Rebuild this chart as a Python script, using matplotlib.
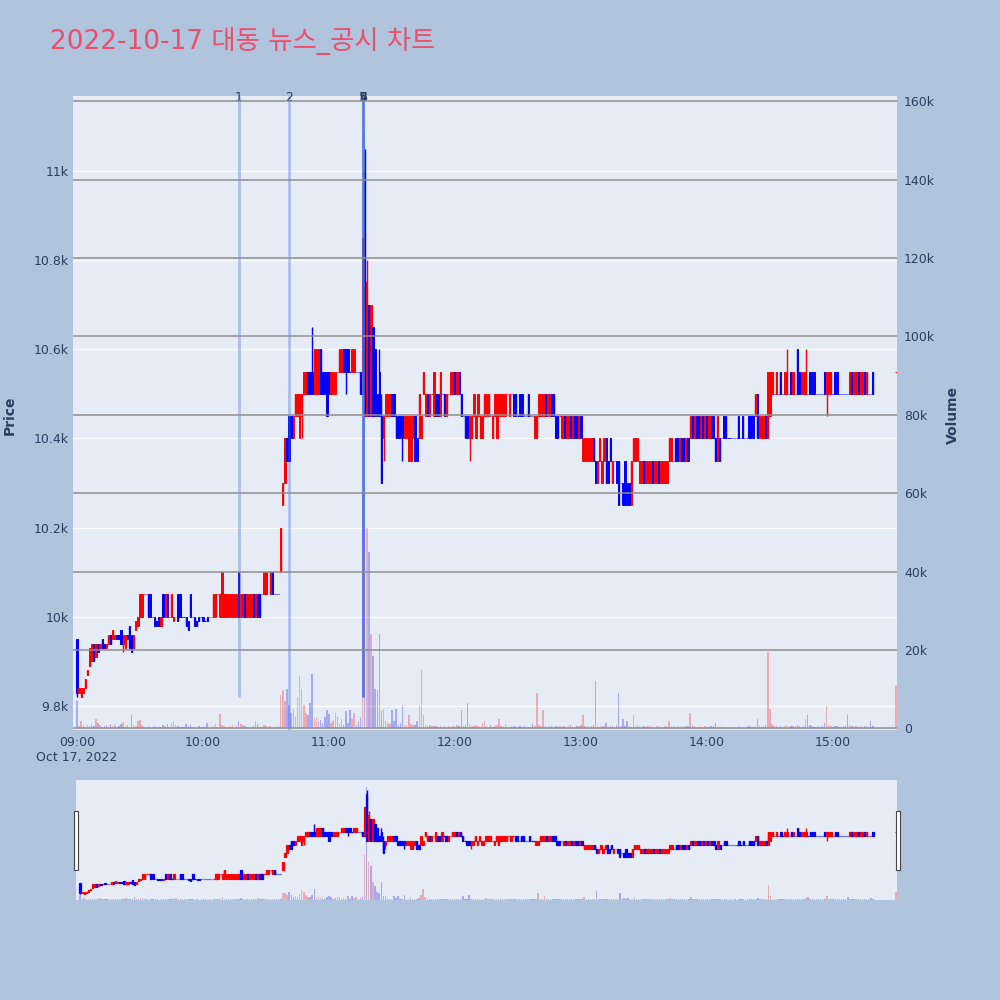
import numpy as np
import matplotlib.pyplot as plt
from matplotlib.patches import Rectangle
from matplotlib.transforms import blended_transform_factory

# minutes after 09:00; 0..379 regular session, 390 = 15:30 closing auction
minutes = list(range(380)) + [390]

opens = [
    9950, 9830, 9820, 9830, 9840, 9870, 9890, 9900, 9940, 9910,
    9940, 9930, 9950, 9940, 9930, 9940, 9960, 9950, 9950, 9960,
    9960, 9970, 9940, 9930, 9960, 9980, 9960, 9930, 9970, 9980,
    10000, 10000, 10050, 10050, 10050, 10050, 10000, 10000, 9990, 10000,
    9980, 10050, 10000, 10050, 10000, 10000, 9990, 10000, 10050, 10050,
    10000, 10000, 10000, 9990, 10050, 10000, 10000, 9990, 10000, 10000,
    10000, 9990, 10000, 10000, 10000, 10000, 10000, 10050, 10000, 10000,
    10000, 10000, 10000, 10000, 10000, 10000, 10000, 10100, 10000, 10000,
    10050, 10000, 10000, 10000, 10050, 10000, 10050, 10050, 10050, 10050,
    10050, 10100, 10050, 10100, 10050, 10050, 10050, 10100, 10250, 10300,
    10400, 10450, 10450, 10400, 10450, 10450, 10400, 10450, 10500, 10500,
    10550, 10550, 10550, 10500, 10500, 10500, 10600, 10550, 10550, 10550,
    10550, 10500, 10500, 10500, 10550, 10550, 10550, 10600, 10600, 10600,
    10550, 10550, 10550, 10550, 10550, 10550, 10500, 11000, 10450, 10700,
    10450, 10650, 10600, 10500, 10550, 10450, 10400, 10450, 10450, 10450,
    10500, 10500, 10450, 10450, 10450, 10450, 10400, 10400, 10350, 10350,
    10400, 10450, 10400, 10400, 10400, 10500, 10450, 10500, 10450, 10500,
    10450, 10500, 10500, 10450, 10500, 10500, 10450, 10500, 10500, 10500,
    10550, 10500, 10550, 10500, 10450, 10450, 10450, 10400, 10400, 10450,
    10400, 10450, 10400, 10400, 10450, 10450, 10450, 10450, 10400, 10450,
    10400, 10450, 10450, 10450, 10450, 10500, 10450, 10500, 10500, 10500,
    10450, 10500, 10500, 10450, 10450, 10500, 10450, 10450, 10400, 10400,
    10450, 10450, 10450, 10500, 10450, 10450, 10500, 10500, 10450, 10450,
    10450, 10400, 10450, 10400, 10400, 10450, 10400, 10450, 10450, 10400,
    10450, 10350, 10350, 10350, 10350, 10350, 10400, 10350, 10300, 10350,
    10300, 10350, 10400, 10350, 10400, 10300, 10350, 10350, 10350, 10300,
    10300, 10350, 10300, 10300, 10250, 10350, 10350, 10350, 10300, 10300,
    10350, 10300, 10300, 10300, 10350, 10300, 10300, 10350, 10300, 10300,
    10300, 10300, 10350, 10350, 10350, 10400, 10400, 10350, 10400, 10400,
    10350, 10400, 10400, 10450, 10400, 10450, 10450, 10400, 10450, 10400,
    10450, 10400, 10450, 10450, 10400, 10350, 10400, 10400, 10450, 10450,
    10400, 10400, 10400, 10400, 10400, 10450, 10400, 10450, 10400, 10400,
    10450, 10450, 10450, 10450, 10500, 10400, 10400, 10400, 10450, 10400,
    10450, 10500, 10500, 10500, 10500, 10550, 10500, 10500, 10500, 10500,
    10550, 10500, 10500, 10600, 10550, 10500, 10500, 10500, 10500, 10550,
    10550, 10550, 10500, 10500, 10500, 10500, 10550, 10500, 10500, 10500,
    10500, 10550, 10550, 10500, 10500, 10500, 10500, 10500, 10500, 10550,
    10500, 10500, 10550, 10500, 10500, 10550, 10500, 10500, 10500, 10550,
    10550,
]

closes = [
    9830, 9840, 9840, 9840, 9860, 9880, 9930, 9940, 9900, 9940,
    9920, 9940, 9930, 9930, 9940, 9960, 9940, 9970, 9960, 9950,
    9950, 9940, 9960, 9960, 9950, 9930, 9920, 9960, 9990, 10000,
    10050, 10050, 10050, 10050, 10000, 10000, 10000, 9980, 9980, 9980,
    10000, 10000, 10050, 10000, 10000, 10050, 10000, 10000, 9990, 10000,
    10000, 10000, 9980, 9970, 10000, 10000, 9980, 9980, 9990, 10000,
    9990, 9990, 9990, 10000, 10000, 10050, 10050, 10050, 10050, 10100,
    10050, 10050, 10050, 10050, 10050, 10050, 10050, 10000, 10050, 10050,
    10000, 10050, 10050, 10050, 10000, 10050, 10000, 10000, 10050, 10100,
    10100, 10100, 10100, 10050, 10050, 10050, 10050, 10200, 10300, 10400,
    10350, 10350, 10400, 10450, 10500, 10500, 10500, 10500, 10550, 10550,
    10500, 10500, 10500, 10600, 10600, 10600, 10500, 10500, 10500, 10450,
    10500, 10550, 10550, 10550, 10550, 10600, 10600, 10550, 10550, 10550,
    10550, 10600, 10600, 10550, 10550, 10500, 10850, 10450, 10750, 10450,
    10700, 10450, 10450, 10450, 10450, 10300, 10450, 10500, 10500, 10500,
    10450, 10450, 10400, 10400, 10400, 10400, 10450, 10450, 10450, 10450,
    10450, 10350, 10350, 10500, 10450, 10550, 10500, 10450, 10500, 10500,
    10550, 10450, 10450, 10550, 10500, 10450, 10500, 10500, 10550, 10550,
    10500, 10550, 10500, 10450, 10450, 10400, 10400, 10450, 10450, 10500,
    10450, 10500, 10450, 10450, 10500, 10500, 10500, 10450, 10450, 10500,
    10500, 10500, 10500, 10500, 10500, 10500, 10500, 10500, 10450, 10450,
    10450, 10450, 10450, 10450, 10450, 10450, 10450, 10450, 10450, 10450,
    10500, 10500, 10500, 10450, 10500, 10500, 10450, 10450, 10400, 10400,
    10450, 10450, 10400, 10450, 10450, 10400, 10450, 10400, 10400, 10450,
    10400, 10400, 10400, 10400, 10400, 10400, 10350, 10300, 10350, 10400,
    10350, 10400, 10300, 10300, 10350, 10350, 10350, 10300, 10250, 10300,
    10250, 10250, 10250, 10250, 10350, 10400, 10400, 10400, 10350, 10350,
    10300, 10350, 10350, 10350, 10300, 10350, 10350, 10300, 10350, 10350,
    10350, 10350, 10400, 10400, 10350, 10350, 10350, 10400, 10350, 10350,
    10400, 10350, 10450, 10400, 10450, 10400, 10400, 10450, 10400, 10450,
    10400, 10450, 10400, 10400, 10350, 10450, 10350, 10400, 10400, 10400,
    10400, 10400, 10400, 10400, 10400, 10400, 10400, 10400, 10400, 10400,
    10400, 10400, 10400, 10500, 10400, 10450, 10450, 10450, 10400, 10550,
    10550, 10550, 10500, 10550, 10500, 10500, 10500, 10550, 10550, 10500,
    10500, 10550, 10500, 10500, 10500, 10550, 10550, 10550, 10500, 10500,
    10500, 10500, 10500, 10500, 10500, 10500, 10500, 10550, 10550, 10550,
    10500, 10500, 10500, 10500, 10500, 10500, 10500, 10500, 10550, 10500,
    10550, 10550, 10500, 10550, 10550, 10500, 10550, 10500, 10500, 10500,
    10550,
]

# extra wicks beyond the body
wick_high = {112: 10650, 137: 11050, 138: 10800, 144: 10600, 145: 10500,
             338: 10600, 347: 10600}
wick_low = {0: 9820, 22: 9920, 98: 10250, 107: 10400, 119: 10450, 128: 10500,
            146: 10350, 155: 10350, 187: 10350, 357: 10450}

# volume in thousands of shares
volumes_k = [
    7.0, 0.6, 1.8, 0.8, 0.4, 1.0, 0.5, 1.2, 0.7, 2.4,
    1.5, 1.0, 0.4, 0.6, 1.0, 0.3, 1.1, 0.5, 0.8, 0.4,
    0.6, 1.2, 1.7, 0.5, 0.9, 0.4, 3.5, 1.0, 0.6, 1.8,
    2.2, 0.8, 0.3, 0.2, 0.6, 0.4, 0.3, 0.5, 0.2, 0.3,
    0.4, 0.8, 0.5, 1.2, 0.3, 1.5, 2.0, 0.8, 0.5, 0.3,
    0.4, 0.3, 1.2, 0.6, 0.9, 0.2, 0.3, 0.2, 0.5, 0.3,
    0.4, 0.2, 1.4, 0.2, 0.3, 0.5, 1.2, 0.4, 3.8, 1.0,
    0.6, 0.4, 0.3, 0.5, 0.8, 0.4, 0.6, 1.8, 1.2, 0.8,
    0.5, 0.4, 0.3, 0.4, 0.6, 1.8, 1.2, 0.4, 0.3, 1.0,
    0.5, 0.4, 0.6, 0.3, 0.4, 0.3, 0.5, 8.4, 9.7, 7.0,
    10.0, 6.0, 4.0, 5.0, 3.0, 8.0, 13.5, 10.0, 6.0, 4.0,
    3.5, 6.6, 14.0, 2.5, 3.0, 2.0, 2.2, 1.5, 3.0, 4.6,
    3.8, 1.5, 2.0, 4.0, 3.0, 1.2, 2.5, 1.0, 4.5, 1.5,
    4.6, 2.5, 4.0, 1.0, 2.0, 3.0, 60.0, 152.0, 51.0, 45.0,
    24.0, 18.6, 10.0, 9.7, 24.0, 4.5, 5.0, 2.0, 1.5, 1.2,
    4.6, 2.0, 5.0, 1.0, 1.5, 6.0, 1.0, 0.8, 3.3, 1.2,
    1.0, 0.8, 2.0, 6.0, 15.0, 3.3, 1.0, 0.5, 0.8, 0.6,
    0.5, 0.6, 0.3, 0.5, 0.4, 0.6, 0.3, 0.5, 0.4, 0.7,
    0.4, 1.0, 0.6, 4.6, 0.5, 0.8, 6.4, 1.2, 0.5, 0.6,
    0.8, 0.5, 0.4, 1.5, 2.0, 0.6, 0.4, 0.8, 0.3, 0.6,
    0.8, 2.5, 0.5, 0.6, 1.2, 0.4, 0.3, 0.5, 0.6, 0.4,
    0.3, 0.5, 0.4, 0.6, 0.3, 0.4, 0.3, 1.2, 0.6, 9.0,
    0.8, 0.5, 4.6, 0.6, 0.4, 0.7, 0.5, 0.4, 0.6, 0.3,
    0.5, 0.4, 0.6, 0.3, 0.5, 1.0, 0.4, 0.3, 0.5, 0.6,
    0.8, 3.5, 0.6, 0.5, 0.4, 0.6, 0.8, 12.0, 0.6, 0.4,
    0.5, 0.6, 1.5, 0.4, 0.5, 0.6, 0.3, 0.8, 9.0, 0.6,
    2.5, 0.5, 1.8, 0.6, 0.4, 3.5, 0.5, 0.8, 0.6, 0.4,
    0.5, 0.4, 0.6, 0.5, 0.3, 0.4, 0.6, 0.5, 0.4, 0.3,
    0.5, 0.4, 2.0, 0.6, 0.5, 0.4, 0.6, 0.3, 0.5, 0.4,
    0.6, 0.5, 4.0, 0.8, 0.5, 0.4, 0.3, 0.6, 0.4, 0.5,
    0.3, 0.4, 0.5, 0.6, 1.5, 0.4, 0.3, 0.5, 0.4, 0.3,
    0.2, 0.3, 0.2, 0.4, 0.2, 0.5, 0.3, 0.4, 0.2, 0.3,
    0.5, 0.4, 0.3, 0.6, 2.5, 0.5, 0.4, 0.6, 0.8, 19.6,
    5.0, 1.2, 0.5, 0.6, 0.4, 0.5, 0.3, 0.6, 0.8, 0.4,
    0.5, 0.6, 0.4, 0.8, 0.5, 0.4, 0.6, 2.5, 3.3, 1.0,
    0.6, 0.4, 0.3, 0.5, 0.4, 0.6, 1.5, 5.6, 0.8, 0.5,
    0.4, 0.6, 0.5, 0.3, 0.4, 0.5, 0.6, 3.5, 0.8, 0.5,
    0.4, 0.6, 0.3, 0.5, 0.4, 0.6, 0.5, 0.4, 1.8, 0.6,
    10.7,
]

# news / disclosure markers
event_minutes = [77.1, 101.0, 136.2, 136.2, 136.3, 136.3]
event_labels = ['1', '2', '3', '4', '5', '6']
event_full = [False, True, False, False, False, False]
event_floor = 9820

price_ticks = [9800, 10000, 10200, 10400, 10600, 10800, 11000]
price_tick_labels = ['9.8k', '10k', '10.2k', '10.4k', '10.6k', '10.8k', '11k']
vol_ticks = [0, 20000, 40000, 60000, 80000, 100000, 120000, 140000, 160000]
vol_tick_labels = ['0', '20k', '40k', '60k', '80k', '100k', '120k', '140k', '160k']
time_ticks = [0, 60, 120, 180, 240, 300, 360]
time_tick_labels = ['09:00', '10:00', '11:00', '12:00', '13:00', '14:00', '15:00']

title = '2022-10-17 대동 뉴스_공시 차트'

FIG_BG = '#B0C4DE'
PLOT_BG = '#E5ECF6'
FONT_C = '#2a3f5f'
UP = '#FF0000'
DOWN = '#0000FF'

x = np.array(minutes, dtype=float)
o = np.array(opens, dtype=float)
c = np.array(closes, dtype=float)
hi = np.maximum(o, c)
lo = np.minimum(o, c)
for i, v in wick_high.items():
    hi[i] = max(hi[i], v)
for i, v in wick_low.items():
    lo[i] = min(lo[i], v)
vol = np.array(volumes_k) * 1000

# plotly rule: open == close -> compare with previous close
inc = []
prev_c, state = None, True
for oo, cc in zip(o, c):
    if oo != cc:
        state = cc > oo
    elif prev_c is not None and cc != prev_c:
        state = cc > prev_c
    inc.append(state)
    prev_c = cc
inc = np.array(inc)
cols = np.where(inc, UP, DOWN)
vcols = [(1, 0, 0, 0.28) if f else (0, 0, 1, 0.28) for f in inc]

XLIM = (-1.9, 390.5)
PLIM = (9746, 11168)
VLIM = (-400, 161300)

plt.rcParams['font.family'] = ['DejaVu Sans', 'Noto Sans CJK KR']

fig = plt.figure(figsize=(10, 10), dpi=100, facecolor=FIG_BG)


def draw_chart(a, a2, body_w, body_lw, wick_lw):
    a.bar(x, vol, width=0.7, color=vcols, linewidth=0, transform=a2.transData, zorder=2)
    a.vlines(x, lo, hi, colors=cols, linewidth=wick_lw, zorder=3)
    a.bar(x, c - o, bottom=o, width=body_w, color=cols, edgecolor=cols,
          linewidth=body_lw, zorder=4)


# main chart
ax = fig.add_axes([0.073, 0.270, 0.824, 0.634])
ax2 = ax.twinx()
ax.set_facecolor(PLOT_BG)
ax2.set_facecolor('none')
draw_chart(ax, ax2, 0.6, 0.7, 1.0)
ax.set_xlim(*XLIM)
ax.set_ylim(*PLIM)
ax2.set_ylim(*VLIM)

ax.set_yticks(price_ticks)
ax.set_yticklabels(price_tick_labels)
ax.set_xticks(time_ticks)
ax.set_xticklabels(time_tick_labels)
ax2.set_yticks(vol_ticks)
ax2.set_yticklabels(vol_tick_labels)
ax.grid(True, axis='y', color='white', linewidth=1.0, zorder=0)
ax.set_axisbelow(True)
ax2.grid(True, axis='y', color='#8f8f8f', linewidth=1.1)
ax.tick_params(axis='y', length=0, pad=3, labelsize=9, labelcolor=FONT_C)
ax.tick_params(axis='x', length=0, pad=4, labelsize=9, labelcolor=FONT_C)
ax2.tick_params(axis='y', length=0, pad=5, labelsize=9, labelcolor=FONT_C)
for a in (ax, ax2):
    for s in a.spines.values():
        s.set_visible(False)

# event lines and labels
top_tr = blended_transform_factory(ax.transData, ax.transAxes)
for m, lab, full in zip(event_minutes, event_labels, event_full):
    y0 = PLIM[0] if full else event_floor
    ax.vlines(m, y0, PLIM[1], colors='royalblue', alpha=0.35, linewidth=2.0, zorder=6)
    ax.text(m, 0.992, lab, transform=top_tr, ha='center', va='baseline',
            fontsize=9, color=FONT_C, zorder=7, clip_on=False)

fig.text(0.077, 0.242, 'Oct 17, 2022', ha='center', va='center', fontsize=9, color=FONT_C)
fig.text(0.010, 0.585, 'Price', rotation=90, ha='center', va='center',
         fontsize=10, fontweight='bold', color=FONT_C)
fig.text(0.953, 0.585, 'Volume', rotation=90, ha='center', va='center',
         fontsize=10, fontweight='bold', color=FONT_C)
fig.text(0.050, 0.959, title, ha='left', va='center', fontsize=19, color='#EC4E6B')

# range slider
axs = fig.add_axes([0.076, 0.100, 0.821, 0.120])
axs2 = axs.twinx()
axs.set_facecolor(PLOT_BG)
axs2.set_facecolor('none')
draw_chart(axs, axs2, 0.6, 0.9, 1.0)
axs.set_xlim(*XLIM)
axs.set_ylim(*PLIM)
axs2.set_ylim(*VLIM)
for a in (axs, axs2):
    a.set_xticks([])
    a.set_yticks([])
    for s in a.spines.values():
        s.set_visible(False)

for hx in (0.0735, 0.8955):
    fig.patches.append(Rectangle((hx, 0.130), 0.004, 0.059, transform=fig.transFigure,
                                 facecolor='white', edgecolor='#444444', linewidth=0.8))

fig.savefig('out.png', dpi=100, facecolor=FIG_BG)
